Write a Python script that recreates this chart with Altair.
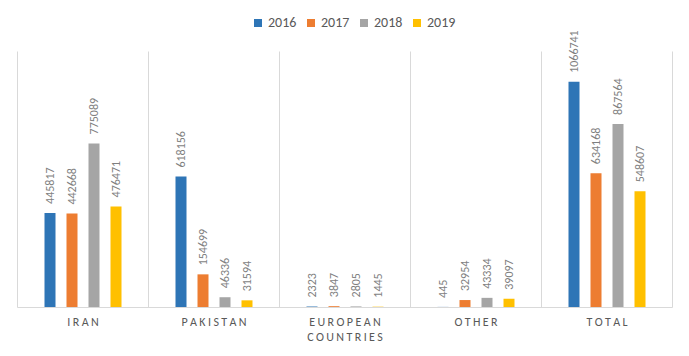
import altair as alt
import pandas as pd

categories = ["IRAN", "PAKISTAN", "EUROPEAN COUNTRIES", "OTHER", "TOTAL"]
years = ["2016", "2017", "2018", "2019"]
v2016 = [445817, 618156, 2323, 445, 1066741]
v2017 = [442668, 154699, 3847, 32954, 634168]
v2018 = [775089, 46336, 2805, 43334, 867564]
v2019 = [476471, 31594, 1445, 39097, 548607]
colors = ["#2E75B6", "#ED7D31", "#A5A5A5", "#FFC000"]

rows = []
for yr, vals in zip(years, [v2016, v2017, v2018, v2019]):
    for c, v in zip(categories, vals):
        rows.append({"category": c, "year": yr, "value": v})
df = pd.DataFrame(rows)

FONT = "Carlito, Liberation Sans Narrow, Liberation Sans, sans-serif"
TS = "\u2009"
label_expr = f"split(join(split(datum.label, ''), '{TS}'), '{TS} {TS}')"

x = alt.X(
    "category:N",
    sort=categories,
    scale=alt.Scale(paddingInner=0, paddingOuter=0),
    axis=alt.Axis(
        title=None,
        labelAngle=0,
        labelExpr=label_expr,
        labelFont=FONT,
        labelFontSize=12,
        labelColor="#595959",
        labelPadding=9,
        labelLineHeight=15,
        ticks=False,
        grid=True,
        gridColor="#D9D9D9",
        tickBand="extent",
        domainColor="#D9D9D9",
    ),
)
xo = alt.XOffset(
    "year:N",
    sort=years,
    scale=alt.Scale(range=[22, 110], paddingInner=0.5, paddingOuter=0.25),
)
y = alt.Y("value:Q", scale=alt.Scale(domain=[0, 1213000], nice=False), axis=None)

bars = alt.Chart(df).mark_bar().encode(
    x=x,
    xOffset=xo,
    y=y,
    color=alt.Color(
        "year:N",
        sort=years,
        scale=alt.Scale(domain=years, range=colors),
        legend=alt.Legend(
            title=None,
            orient="none",
            direction="horizontal",
            legendX=234,
            legendY=-35,
            symbolType="square",
            symbolSize=64,
            symbolStrokeWidth=0,
            labelFont=FONT,
            labelFontSize=14,
            labelColor="#595959",
            columnPadding=7,
            labelOffset=3,
        ),
    ),
)

labels = alt.Chart(df).mark_text(
    angle=270,
    align="left",
    baseline="middle",
    dx=9,
    font=FONT,
    fontSize=12,
    color="#7F7F7F",
).encode(
    x=alt.X("category:N", sort=categories),
    xOffset=xo,
    y=y,
    text="value:Q",
)

chart = (
    alt.layer(bars, labels)
    .properties(
        width=655,
        height=256,
        autosize=alt.AutoSizeParams(type="none"),
        padding={"left": 17, "top": 51, "right": 17, "bottom": 49},
        background="white",
    )
    .configure_view(stroke=None)
)

chart.save("out.html", embed_options={"renderer": "svg", "actions": False})
